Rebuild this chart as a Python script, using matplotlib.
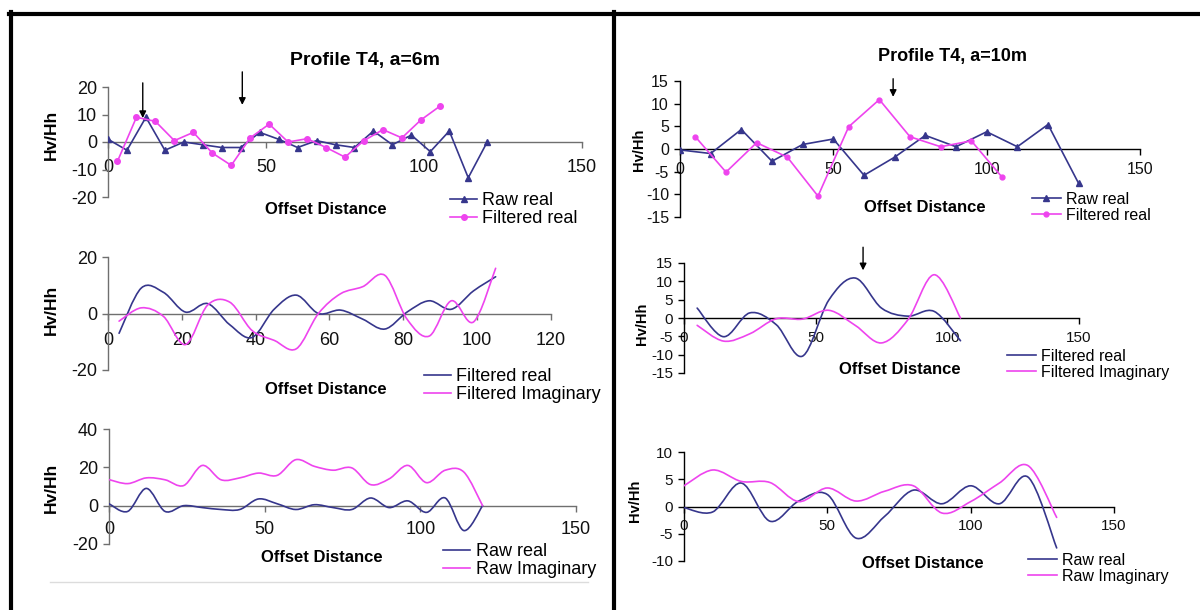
import matplotlib
matplotlib.use('Agg')
import matplotlib.pyplot as plt
from matplotlib.path import Path
from matplotlib.patches import PathPatch
from matplotlib.lines import Line2D

# ---- profile T4, a = 6 m ----
x6_raw = [0, 6, 12, 18, 24, 30, 36, 42, 48, 54, 60, 66, 72, 78, 84, 90, 96, 102, 108, 114, 120]
raw_real_6 = [1, -3, 9, -3, 0, -1, -2, -2, 3.5, 1, -2, 0.5, -1, -2, 4, -1, 2.5, -3.5, 4, -13, 0]
raw_imag_6 = [13.6, 11.5, 14.5, 13.5, 10.5, 21, 13.5, 14.5, 17, 15.8, 24, 20.5, 18.5, 19.7,
              11, 14, 21, 12, 18.5, 17.5, 0]
x6_filt = [3, 9, 15, 21, 27, 33, 39, 45, 51, 57, 63, 69, 75, 81, 87, 93, 99, 105]
filt_real_6 = [-7, 9, 7.5, 0.5, 3.5, -4, -8.5, 1.5, 6.5, 0, 1.2, -2, -5.5, 0.5, 4.5, 1.5, 8, 13]
filt_imag_6 = [-2.7, 2, -1, -11, 3, 4, -6, -9.5, -12.5, 0, 7, 9.5, 13.5, -2, -8, 4.5, -3, 16]

# ---- profile T4, a = 10 m ----
x10_raw = [0, 10, 20, 30, 40, 50, 60, 70, 80, 90, 100, 110, 120, 130]
raw_real_10 = [-0.2, -1, 4.3, -2.7, 1, 2.2, -5.8, -1.8, 3, 0.5, 3.8, 0.5, 5.4, -7.6]
raw_imag_10 = [3.8, 6.7, 4.6, 4.4, 0.9, 3.4, 1, 2.8, 3.8, -1.2, 0.9, 4.3, 7.5, -2]
x10_filt = [5, 15, 25, 35, 45, 55, 65, 75, 85, 95, 105]
filt_real_10 = [2.7, -5.1, 1.4, -1.8, -10.4, 4.9, 10.9, 2.7, 0.5, 1.8, -6.2]
filt_imag_10 = [-2, -6.3, -4.3, -0.2, -0.3, 2.1, -2, -6.8, -0.5, 11.8, 0]

BLUE = '#36368c'
PINK = '#ee44ee'
W, H = 1200, 610

plt.rcParams['font.family'] = ['Liberation Sans', 'DejaVu Sans']
plt.rcParams['axes.unicode_minus'] = False
fig = plt.figure(figsize=(W / 100, H / 100), dpi=100)


def fx(x):
    return x / W


def fy(y):
    return 1 - y / H


def axes_px(l, t, r, b):
    return fig.add_axes([fx(l), fy(b), (r - l) / W, (b - t) / H])


def smooth_line(ax, x, y, color):
    # Catmull-Rom through the points, drawn as cubic Bezier segments
    pts = list(zip(x, y))
    verts = [pts[0]]
    codes = [Path.MOVETO]
    n = len(pts)
    for i in range(n - 1):
        p0 = pts[max(i - 1, 0)]
        p1 = pts[i]
        p2 = pts[i + 1]
        p3 = pts[min(i + 2, n - 1)]
        c1 = (p1[0] + (p2[0] - p0[0]) / 6, p1[1] + (p2[1] - p0[1]) / 6)
        c2 = (p2[0] - (p3[0] - p1[0]) / 6, p2[1] - (p3[1] - p1[1]) / 6)
        verts += [c1, c2, p2]
        codes += [Path.CURVE4] * 3
    ax.add_patch(PathPatch(Path(verts, codes), fill=False, edgecolor=color, lw=1.2,
                           capstyle='round', joinstyle='round', zorder=3))


def style(ax, xmax, xticks, ylim, yticks, axcolor, fs, xpad):
    ax.set_xlim(0, xmax)
    ax.set_ylim(*ylim)
    ax.set_xticks(xticks)
    ax.set_yticks(yticks)
    ax.patch.set_alpha(0)
    for s in ('top', 'right'):
        ax.spines[s].set_visible(False)
    ax.spines['bottom'].set_position(('data', 0))
    for s in ('left', 'bottom'):
        ax.spines[s].set_color(axcolor)
        ax.spines[s].set_linewidth(1.0)
    ax.tick_params(direction='out', length=4, width=1, color=axcolor,
                   labelsize=fs, pad=4, labelcolor='#111111')
    ax.tick_params(axis='x', pad=xpad)


def legend(ax, handles, labels, l, t, fs, hl):
    ax.legend(handles, labels, loc='upper left', bbox_to_anchor=(fx(l), fy(t)),
              bbox_transform=fig.transFigure, frameon=False, fontsize=fs,
              handlelength=hl, handletextpad=0.3, borderpad=0, borderaxespad=0,
              labelspacing=0.05)


def arrow(ax, x, y0, y1):
    ax.annotate('', xy=(x, y1), xytext=(x, y0), annotation_clip=False,
                arrowprops=dict(arrowstyle='-|>', color='black', lw=1, mutation_scale=10,
                                shrinkA=0, shrinkB=0))


def label(x, y, s, fs, rot=0):
    fig.text(fx(x), fy(y), s, ha='center', va='center', rotation=rot,
             fontsize=fs, fontweight='bold')


def lines(c1, c2):
    return [Line2D([], [], color=c1, lw=1.2), Line2D([], [], color=c2, lw=1.2)]


# ---------- left column: a = 6 m ----------
GRAY = '#6f6f6f'

ax1 = axes_px(108, 87, 582, 197)
style(ax1, 150, [0, 50, 100, 150], (-20, 20), [-20, -10, 0, 10, 20], GRAY, 13, 8)
l_raw, = ax1.plot(x6_raw, raw_real_6, color=BLUE, lw=1.2, marker='^', ms=5, zorder=3)
l_filt, = ax1.plot(x6_filt, filt_real_6, color=PINK, lw=1.2, marker='o', ms=4, zorder=3)
legend(ax1, [l_raw, l_filt], ['Raw real', 'Filtered real'], 450, 192, 13, 1.5)
arrow(ax1, 11, 21.5, 8.7)
arrow(ax1, 42.5, 25.5, 13.5)
label(365, 61, 'Profile T4, a=6m', 14)
label(326, 210, 'Offset Distance', 12)
label(51, 135, 'Hv/Hh', 12.5, 90)

ax2 = axes_px(108, 257, 551, 370)
style(ax2, 120, [0, 20, 40, 60, 80, 100, 120], (-20, 20), [-20, 0, 20], GRAY, 13, 9)
smooth_line(ax2, x6_filt, filt_real_6, BLUE)
smooth_line(ax2, x6_filt, filt_imag_6, PINK)
legend(ax2, lines(BLUE, PINK), ['Filtered real', 'Filtered Imaginary'], 424, 368, 13, 1.5)
label(326, 390, 'Offset Distance', 12)
label(51, 310, 'Hv/Hh', 12.5, 90)

ax3 = axes_px(109, 429, 576, 544)
style(ax3, 150, [0, 50, 100, 150], (-20, 40), [-20, 0, 20, 40], GRAY, 13, 7)
smooth_line(ax3, x6_raw, raw_real_6, BLUE)
smooth_line(ax3, x6_raw, raw_imag_6, PINK)
legend(ax3, lines(BLUE, PINK), ['Raw real', 'Raw Imaginary'], 443, 543, 13, 1.5)
label(322, 557, 'Offset Distance', 12)
label(51, 488, 'Hv/Hh', 12.5, 90)
fig.add_artist(Line2D([fx(50), fx(588)], [fy(582), fy(582)], color='#dcdcdc', lw=1))

# ---------- right column: a = 10 m ----------
ax4 = axes_px(680, 81, 1140, 217)
style(ax4, 150, [0, 50, 100, 150], (-15, 15), [-15, -10, -5, 0, 5, 10, 15], 'black', 11.5, 5)
r_raw, = ax4.plot(x10_raw, raw_real_10, color=BLUE, lw=1.2, marker='^', ms=4.5, zorder=3)
r_filt, = ax4.plot(x10_filt, filt_real_10, color=PINK, lw=1.2, marker='o', ms=3.5, zorder=3)
legend(ax4, [r_raw, r_filt], ['Raw real', 'Filtered real'], 1032, 192, 11.5, 1.8)
arrow(ax4, 69.5, 15.5, 11.5)
label(952, 57, 'Profile T4, a=10m', 13)
label(925, 207, 'Offset Distance', 12)
label(639, 150, 'Hv/Hh', 10.5, 90)

ax5 = axes_px(684, 263, 1079, 373)
style(ax5, 150, [0, 50, 100, 150], (-15, 15), [-15, -10, -5, 0, 5, 10, 15], 'black', 11, 5)
smooth_line(ax5, x10_filt, filt_real_10, BLUE)
smooth_line(ax5, x10_filt, filt_imag_10, PINK)
legend(ax5, lines(BLUE, PINK), ['Filtered real', 'Filtered Imaginary'], 1007, 349, 11.5, 1.8)
arrow(ax5, 68, 19.3, 13)
label(900, 370, 'Offset Distance', 12)
label(642, 324, 'Hv/Hh', 10.5, 90)

ax6 = axes_px(684, 452, 1114, 561)
style(ax6, 150, [0, 50, 100, 150], (-10, 10), [-10, -5, 0, 5, 10], 'black', 11, 5)
smooth_line(ax6, x10_raw, raw_real_10, BLUE)
smooth_line(ax6, x10_raw, raw_imag_10, PINK)
legend(ax6, lines(BLUE, PINK), ['Raw real', 'Raw Imaginary'], 1028, 553, 11.5, 1.8)
label(923, 563, 'Offset Distance', 12)
label(635, 501, 'Hv/Hh', 10.5, 90)

# ---------- heavy frame lines ----------
for xs, ys in [([9, 1200], [14, 14]), ([11, 11], [12, 610]), ([614, 614], [12, 610])]:
    fig.add_artist(Line2D([fx(v) for v in xs], [fy(v) for v in ys], color='black', lw=3))

fig.savefig('out.png', dpi=100)
